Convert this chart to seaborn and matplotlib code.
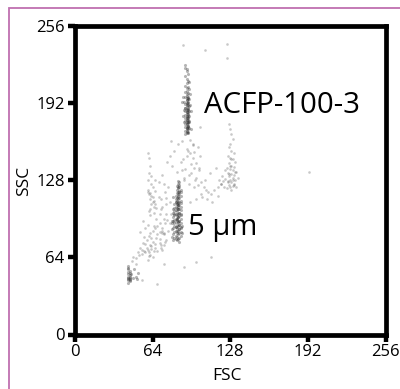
import pandas as pd
import seaborn as sns
import matplotlib as mpl
mpl.use('Agg')
import matplotlib.pyplot as plt
from matplotlib.patches import Rectangle

# values, grouped by population
top_fsc = [91, 91, 92, 92, 93, 91, 92, 93, 94, 92, 91, 93, 92, 94, 92, 91, 93, 92, 92, 93, 91, 92, 93, 94, 92, 93,
           90, 92, 93, 91, 92, 93, 94, 92, 91, 93, 92, 93, 90, 92, 94, 91, 93, 92, 93, 92, 91, 93, 92, 94, 92, 93,
           91, 92, 93, 92, 94, 91, 92, 93, 92, 93, 91, 92, 93, 92, 91, 93, 92, 94, 92, 93, 92, 91, 93, 92, 93, 92,
           91, 92, 93, 92, 94, 92, 93, 91, 92, 93, 92, 93, 89, 95, 88, 96, 90, 95, 89, 96]
top_ssc = [223, 221, 220, 218, 216, 214, 212, 210, 209, 208, 206, 205, 204, 203, 202, 201, 200, 199, 198, 197, 197, 196,
           195, 195, 194, 193, 193, 192, 192, 191, 190, 190, 189, 189, 188, 188, 187, 187, 186, 186, 185, 185, 184, 184,
           183, 183, 182, 182, 181, 181, 180, 180, 179, 179, 178, 178, 177, 177, 176, 176, 175, 175, 174, 174, 173, 173,
           172, 172, 171, 171, 170, 170, 169, 169, 168, 168, 167, 167, 166, 178, 186, 192, 176, 184, 179, 188, 194, 173,
           171, 196, 197, 190, 193, 185, 176, 199, 181, 170]

bead_fsc = [85, 86, 85, 86, 84, 86, 85, 87, 84, 86, 85, 87, 84, 85, 86, 83, 87, 85, 84, 86, 83, 85, 87, 84, 86, 83, 85,
            87, 82, 84, 86, 85, 83, 87, 82, 84, 86, 85, 83, 87, 82, 84, 86, 81, 85, 83, 87, 82, 84, 86, 81, 85, 83, 87,
            82, 84, 86, 81, 85, 83, 87, 80, 84, 86, 82, 85, 83, 87, 81, 84, 86, 80, 85, 83, 87, 82, 84, 86, 81, 85, 83,
            87, 80, 84, 86, 82, 88, 83, 85, 81, 87, 84, 82, 86, 80, 88, 83, 85, 81, 87, 84, 82, 86, 85, 83, 81, 84, 86,
            85, 85, 84, 86, 85, 84, 86, 85, 84, 85, 86, 85]
bead_ssc = [127, 126, 125, 124, 123, 122, 121, 120, 120, 119, 118, 118, 117, 116, 116, 115, 115, 114, 113, 113, 112, 112,
            111, 111, 110, 110, 109, 109, 108, 108, 107, 107, 106, 106, 105, 105, 104, 104, 103, 103, 102, 102, 101, 101,
            100, 100, 99, 99, 98, 98, 97, 97, 96, 96, 95, 95, 94, 94, 93, 93, 92, 92, 91, 91, 90, 90, 89, 89, 88, 88, 87,
            87, 86, 86, 85, 85, 84, 84, 83, 83, 82, 82, 81, 81, 80, 80, 84, 79, 79, 78, 88, 78, 92, 77, 94, 90, 110, 106,
            104, 100, 96, 100, 94, 97, 89, 114, 108, 91, 122, 104, 96, 87, 115, 86, 118, 110, 100, 93, 101, 107]

low_fsc = [44, 44, 44, 45, 44, 45, 44, 45, 44, 45, 44, 45, 44, 45, 45, 44, 45, 44, 46, 49, 50, 48, 52, 51]
low_ssc = [57, 55, 54, 53, 52, 51, 50, 49, 48, 48, 47, 47, 46, 46, 45, 45, 44, 43, 50, 54, 48, 47, 51, 46]

diag_fsc = [48, 50, 47, 52, 54, 53, 56, 55, 58, 57, 59, 60, 61, 59, 62, 63, 61, 64, 63, 65, 62, 66, 60, 58, 56, 54, 64,
            67, 68, 70, 71, 70, 71, 72, 74, 73, 68, 65, 63, 61, 60, 58, 57, 55, 62, 64, 66, 73, 75, 72]
diag_ssc = [64, 63, 61, 68, 72, 66, 76, 70, 75, 69, 72, 70, 68, 78, 74, 71, 82, 77, 73, 69, 66, 75, 91, 88, 94, 85, 86,
            80, 83, 76, 74, 79, 72, 70, 77, 83, 69, 90, 80, 65, 62, 68, 81, 67, 84, 64, 72, 74, 78, 86]

mid_fsc = [60, 62, 61, 63, 64, 62, 65, 64, 63, 66, 65, 62, 61, 60, 66, 64, 63, 65, 62, 67, 70, 71, 72, 70, 73, 72, 74,
           71, 75, 73, 76, 77, 75, 78, 72, 70, 68, 66, 69, 74, 77, 79, 60, 61, 62, 61, 60, 63, 66, 69, 75, 78, 73, 67]
mid_ssc = [118, 117, 116, 115, 114, 112, 111, 110, 108, 108, 106, 104, 102, 120, 119, 122, 125, 101, 99, 96, 100, 104,
           106, 92, 96, 88, 92, 112, 100, 84, 95, 86, 108, 92, 84, 85, 90, 88, 114, 118, 122, 100, 128, 134, 140, 146,
           150, 131, 128, 126, 113, 110, 125, 105]

mid_top_fsc = [88, 92, 95, 97, 100, 98, 102, 96, 94, 90, 99, 104, 101, 106, 108, 110, 112, 105, 100, 95, 89, 93, 97, 103,
               107, 111, 115, 118, 120, 116, 91, 96, 100, 104, 98, 94, 87, 102, 109, 113, 92, 95, 98, 101, 88, 90, 84, 80,
               78, 82, 85, 76, 72, 79]
mid_top_ssc = [160, 154, 150, 146, 142, 138, 136, 134, 132, 130, 128, 126, 124, 122, 120, 118, 116, 114, 112, 110, 145, 152,
               157, 148, 128, 134, 120, 115, 125, 138, 137, 141, 130, 116, 122, 125, 143, 138, 112, 110, 148, 161, 151, 155,
               136, 128, 135, 140, 148, 152, 158, 143, 132, 160]

right_fsc = [127, 128, 129, 130, 128, 127, 129, 131, 126, 128, 130, 132, 127, 129, 131, 125, 128, 130, 133, 126, 129, 131,
             127, 130, 124, 128, 132, 126, 129, 131, 127, 130, 128, 125, 129, 133, 127, 130, 128, 126, 132, 129, 131, 134,
             124, 122, 120, 121, 123, 119, 118]
right_ssc = [174, 170, 166, 162, 158, 155, 152, 150, 148, 146, 145, 143, 142, 140, 139, 138, 137, 136, 135, 134, 133, 132,
             131, 130, 129, 128, 128, 127, 126, 125, 124, 123, 122, 121, 120, 122, 133, 128, 140, 126, 135, 145, 124, 130,
             136, 127, 125, 131, 122, 128, 122]

stray_fsc = [89, 107, 125, 125, 193, 50, 55, 68, 73, 90, 100, 112, 97, 103]
stray_ssc = [240, 236, 241, 229, 135, 58, 45, 42, 58, 56, 60, 64, 158, 172]

tick_vals = [0, 64, 128, 192, 256]

dense = pd.DataFrame({'FSC': top_fsc + bead_fsc + low_fsc, 'SSC': top_ssc + bead_ssc + low_ssc})
sparse = pd.DataFrame({
    'FSC': diag_fsc + mid_fsc + mid_top_fsc + right_fsc + stray_fsc,
    'SSC': diag_ssc + mid_ssc + mid_top_ssc + right_ssc + stray_ssc,
})

plt.rcParams['font.family'] = ['Open Sans', 'DejaVu Sans']

fig = plt.figure(figsize=(4.0, 3.89), dpi=100)
# pink frame, right and bottom sides fall outside the picture
fig.add_artist(Rectangle((8.5 / 400, -0.05), 1.1, 1.05 - 8.5 / 389, transform=fig.transFigure,
                         fill=False, edgecolor='#bf6fb0', linewidth=1.3))

ax = fig.add_axes([75 / 400, 1 - 334.5 / 389, 310.5 / 400, 309 / 389])
sns.scatterplot(data=sparse, x='FSC', y='SSC', color='#4a4a4a', s=3.5, alpha=0.3, linewidth=0, ax=ax)
sns.scatterplot(data=dense, x='FSC', y='SSC', color='#333333', s=5, alpha=0.36, linewidth=0, ax=ax)

ax.set_xlim(0, 256)
ax.set_ylim(0, 256)
ax.set_xticks(tick_vals)
ax.set_yticks(tick_vals)
ax.tick_params(length=5, width=3.2, labelsize=12, color='black')
ax.tick_params(axis='x', pad=2)
ax.tick_params(axis='y', pad=2.5)
for s in ax.spines.values():
    s.set_linewidth(3.4)
ax.set_xlabel('FSC', fontsize=12.5, va='center')
ax.set_ylabel('SSC', fontsize=12.5, va='center')
ax.xaxis.set_label_coords(0.49, -0.133)
ax.yaxis.set_label_coords(-0.165, 0.497)

ax.text(106, 190, 'ACFP-100-3', fontsize=21.2, va='center', ha='left')
ax.text(93, 89, '5 µm', fontsize=21, va='center', ha='left')

fig.savefig('out.png', dpi=100)
